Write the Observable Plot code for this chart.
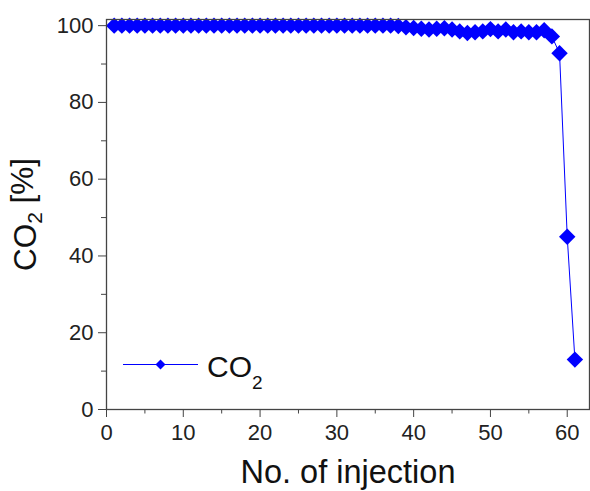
<!DOCTYPE html>
<html>
<head>
<meta charset="utf-8">
<script src="https://cdn.jsdelivr.net/npm/d3@7"></script>
<script src="https://cdn.jsdelivr.net/npm/@observablehq/plot@0.6"></script>
<style>
  html, body { margin: 0; padding: 0; background: #fff; }
  #chart { width: 590px; height: 491px; }
</style>
</head>
<body>
<div id="chart"></div>
<script>
// Injection numbers and CO2 readings (%)
const injections = d3.range(1, 62);
const co2 = [
  100, 100, 100, 100, 100, 100, 100, 100, 100, 100,
  100, 100, 100, 100, 100, 100, 100, 100, 100, 100,
  100, 100, 100, 100, 100, 100, 100, 100, 100, 100,
  100, 100, 100, 100, 100, 100, 100, 99.9, 99.6, 99.4,
  99.2, 99.0, 99.2, 99.3, 99.0, 98.5, 98.1, 98.3, 98.5, 99.1,
  98.5, 99.0, 98.3, 98.5, 98.3, 98.3, 98.8, 97.2, 92.8, 45.0,
  13.0
];
const xMajor = [0, 10, 20, 30, 40, 50, 60];
const xMinor = [5, 15, 25, 35, 45, 55];
const yMajor = [0, 20, 40, 60, 80, 100];
const yMinor = [10, 30, 50, 70, 90];
const xTitle = "No. of injection";
const seriesName = "CO2";

const data = injections.map((n, i) => ({n, v: co2[i]}));
const blue = "#0000ff";
const font = "'Liberation Sans', Arial, Helvetica, sans-serif";

const plot = Plot.plot({
  width: 590,
  height: 491,
  marginLeft: 106,
  marginRight: 1,
  marginTop: 19,
  marginBottom: 82,
  style: {fontFamily: font, fontSize: "22px", color: "#222", background: "#fff"},
  x: {domain: [0, 62.9]},
  y: {domain: [0, 101.6]},
  marks: [
    Plot.axisX(xMajor, {tickSize: 8, tickPadding: 7, label: null, stroke: "#444", fontSize: 22}),
    Plot.axisX(xMinor, {tickSize: 4.5, tickFormat: () => "", label: null, stroke: "#444"}),
    Plot.axisY(yMajor, {tickSize: 8, tickPadding: 5, label: null, stroke: "#444", fontSize: 22}),
    Plot.axisY(yMinor, {tickSize: 5, tickFormat: () => "", label: null, stroke: "#444"}),
    Plot.line(data, {x: "n", y: "v", stroke: blue, strokeWidth: 1}),
    Plot.dot(data, {x: "n", y: "v", symbol: "diamond2", r: 7.4, fill: blue, stroke: "none"}),
    Plot.frame({stroke: "#444", strokeWidth: 1.3}),
    Plot.text([xTitle], {frameAnchor: "bottom", lineAnchor: "middle", textAnchor: "middle", dy: 63, fontSize: 32.5, fill: "#111"}),
    Plot.text(["CO2 [%]"], {frameAnchor: "left", lineAnchor: "middle", textAnchor: "middle", dx: -80.5, rotate: -90, fontSize: 31.5, fill: "#111", className: "ytitle"})
  ]
});

document.getElementById("chart").appendChild(plot);
const svg = d3.select(plot);

// subscript in the y title
svg.selectAll(".ytitle text").each(function() {
  const t = d3.select(this);
  t.text("");
  t.append("tspan").text("CO");
  t.append("tspan").attr("dy", "0.3em").attr("font-size", "21px").text("2");
  t.append("tspan").attr("dy", "-0.3em").text(" [%]");
});

// legend (inside frame, lower left)
const leg = svg.append("g").attr("font-family", font).attr("text-anchor", "start");
leg.append("line").attr("x1", 123).attr("x2", 198).attr("y1", 364.5).attr("y2", 364.5)
  .attr("stroke", blue).attr("stroke-width", 1);
leg.append("path").attr("d", d3.symbol(d3.symbolDiamond2, 64)()).attr("transform", "translate(160.5,364.5)")
  .attr("fill", blue);
const lt = leg.append("text").attr("x", 207).attr("y", 376.5).attr("font-size", 30).attr("fill", "#111");
lt.append("tspan").text(seriesName.slice(0, 2));
lt.append("tspan").attr("dy", 12).attr("font-size", 19).text(seriesName.slice(2));
</script>
</body>
</html>
